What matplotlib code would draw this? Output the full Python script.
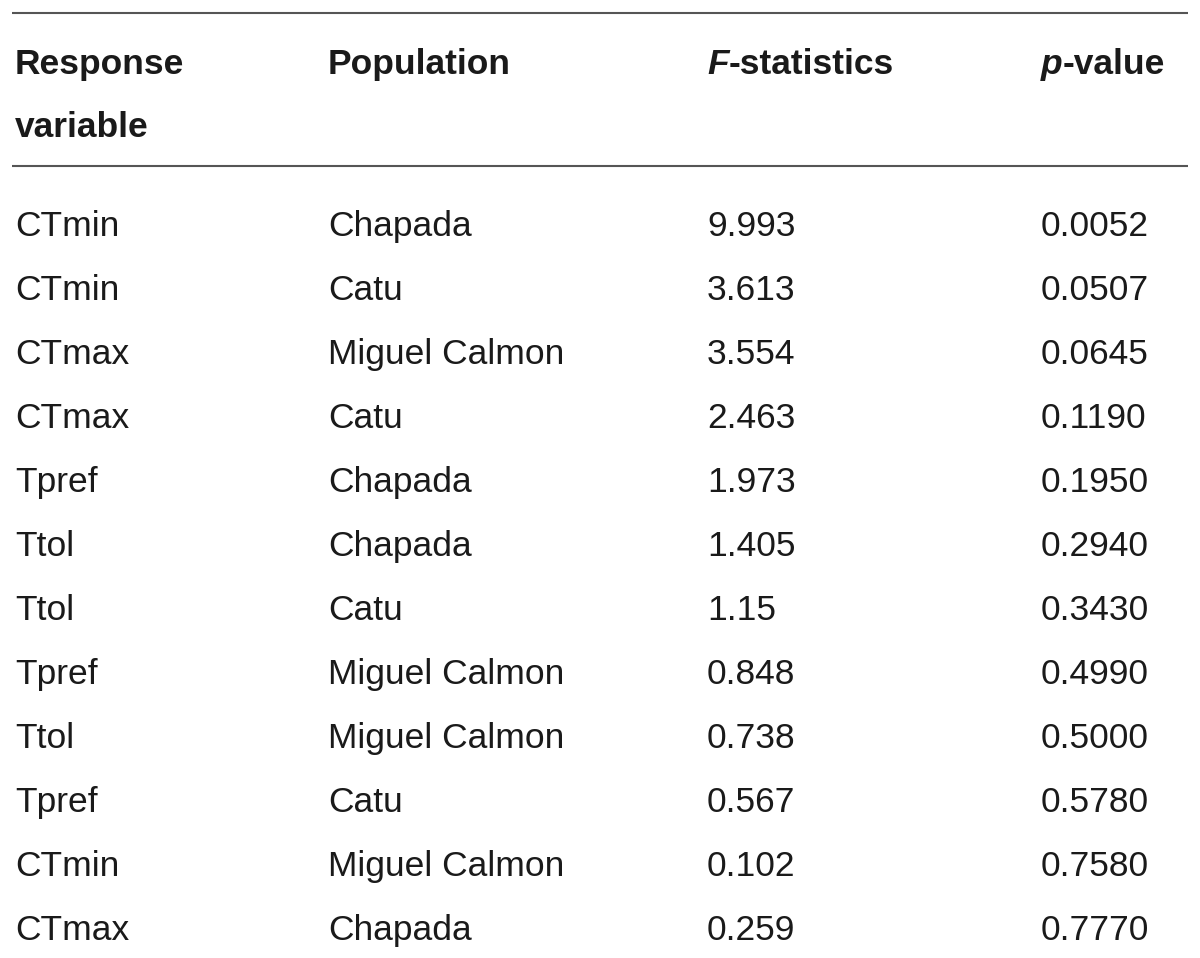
import matplotlib.pyplot as plt

# table content
header_cols = ["Response\nvariable", "Population", "F-statistics", "p-value"]
response = ["CTmin", "CTmin", "CTmax", "CTmax", "Tpref", "Ttol",
            "Ttol", "Tpref", "Ttol", "Tpref", "CTmin", "CTmax"]
population = ["Chapada", "Catu", "Miguel Calmon", "Catu", "Chapada", "Chapada",
              "Catu", "Miguel Calmon", "Miguel Calmon", "Catu", "Miguel Calmon", "Chapada"]
f_stat = ["9.993", "3.613", "3.554", "2.463", "1.973", "1.405",
          "1.15", "0.848", "0.738", "0.567", "0.102", "0.259"]
p_value = ["0.0052", "0.0507", "0.0645", "0.1190", "0.1950", "0.2940",
           "0.3430", "0.4990", "0.5000", "0.5780", "0.7580", "0.7770"]

W, H = 1200, 958
fig = plt.figure(figsize=(W / 100, H / 100), dpi=100)
ax = fig.add_axes([0, 0, 1, 1])
ax.set_xlim(0, W)
ax.set_ylim(H, 0)
ax.axis("off")

font = "Liberation Sans"
fs = 25.5
txt_color = "#1a1a1a"
col_x = [15, 328, 707, 1041]

# rules
ax.plot([12, 1188], [12.5, 12.5], color="#555555", lw=1.5, solid_capstyle="butt")
ax.plot([12, 1188], [166, 166], color="#555555", lw=1.5, solid_capstyle="butt")

# header
hb = 74
ax.text(col_x[0], hb, "Response", fontsize=fs, fontweight="bold", family=font,
        color=txt_color, va="baseline")
ax.text(col_x[0], hb + 63, "variable", fontsize=fs, fontweight="bold", family=font,
        color=txt_color, va="baseline")
ax.text(col_x[1], hb, "Population", fontsize=fs, fontweight="bold", family=font,
        color=txt_color, va="baseline")
for x, first, rest in [(col_x[2], "F", "-statistics"), (col_x[3], "p", "-value")]:
    t = ax.text(x, hb, first, fontsize=fs, fontweight="bold", style="italic",
                family=font, color=txt_color, va="baseline")
    ax.annotate(rest, xy=(1, 0), xycoords=t, fontsize=fs, fontweight="bold",
                family=font, color=txt_color, va="bottom", ha="left")

# body rows
base0 = 236
step = 64
for i in range(len(response)):
    y = base0 + i * step
    for x, val in zip(col_x, [response[i], population[i], f_stat[i], p_value[i]]):
        ax.text(x, y, val, fontsize=fs, family=font, color=txt_color, va="baseline")

fig.savefig("out.png", dpi=100, facecolor="white")
